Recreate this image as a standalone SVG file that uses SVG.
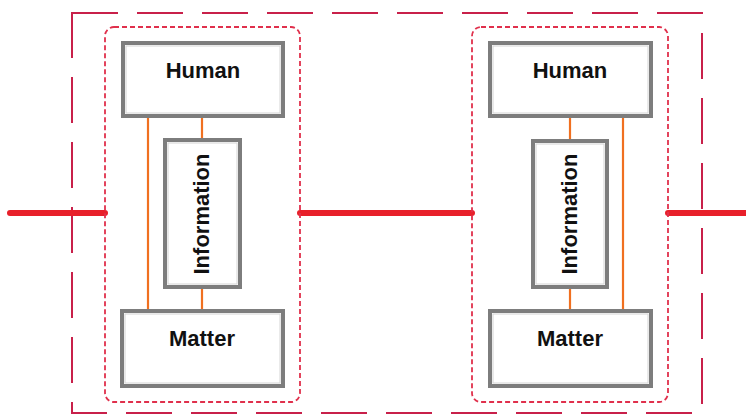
<svg xmlns="http://www.w3.org/2000/svg" width="746" height="415" viewBox="0 0 746 415">
<style>
.outer{fill:none;stroke:#c8204a;stroke-width:2;stroke-dasharray:46 19}
.inner{fill:none;stroke:#e0304c;stroke-width:1.8;stroke-dasharray:5 3}
.box{fill:#fff;stroke:#7d7d7d;stroke-width:4}
.boxin{fill:none;stroke:#d4d4d4;stroke-width:1}
.link{stroke:#f07020;stroke-width:2.2}
.bus{stroke:#e8202a;stroke-width:6;stroke-linecap:round}
.lbl{font-family:"Liberation Sans",Arial,sans-serif;font-weight:bold;font-size:22px;fill:#111;text-anchor:middle}
</style>
<rect width="746" height="415" fill="#fff"/>
<rect class="outer" x="72" y="13" width="630" height="400"/>
<g id="connectors">
<line class="bus" x1="10" y1="213" x2="105" y2="213"/>
<line class="bus" x1="300" y1="213" x2="472" y2="213"/>
<line class="bus" x1="668" y1="213" x2="746" y2="213"/>
<line class="link" x1="148" y1="116" x2="148" y2="310"/>
<line class="link" x1="202" y1="116" x2="202" y2="139"/>
<line class="link" x1="202" y1="287" x2="202" y2="310"/>
<line class="link" x1="570" y1="116" x2="570" y2="140"/>
<line class="link" x1="570" y1="287" x2="570" y2="310"/>
<line class="link" x1="623" y1="116" x2="623" y2="310"/>
</g>
<g id="system-left">
<rect class="inner" x="105" y="27" width="195" height="375" rx="9"/>
</g>
<g id="system-right">
<rect class="inner" x="472" y="27" width="196" height="375" rx="9"/>
</g>
<g id="human-left">
<rect class="box" x="123" y="43" width="160" height="73"/>
<rect class="boxin" x="126" y="46" width="154" height="67"/>
<text class="lbl" x="203" y="78">Human</text>
</g>
<g id="information-left">
<rect class="box" x="165" y="140" width="75" height="147"/>
<rect class="boxin" x="168" y="143" width="69" height="141"/>
<text class="lbl" transform="translate(209,214) rotate(-90)">Information</text>
</g>
<g id="matter-left">
<rect class="box" x="122" y="311" width="161" height="75"/>
<rect class="boxin" x="125" y="314" width="155" height="69"/>
<text class="lbl" x="202" y="346">Matter</text>
</g>
<g id="human-right">
<rect class="box" x="490" y="43" width="161" height="73"/>
<rect class="boxin" x="493" y="46" width="155" height="67"/>
<text class="lbl" x="570" y="78">Human</text>
</g>
<g id="information-right">
<rect class="box" x="533" y="141" width="74" height="146"/>
<rect class="boxin" x="536" y="144" width="68" height="140"/>
<text class="lbl" transform="translate(577,214) rotate(-90)">Information</text>
</g>
<g id="matter-right">
<rect class="box" x="490" y="311" width="161" height="75"/>
<rect class="boxin" x="493" y="314" width="155" height="69"/>
<text class="lbl" x="570" y="346">Matter</text>
</g>
</svg>
